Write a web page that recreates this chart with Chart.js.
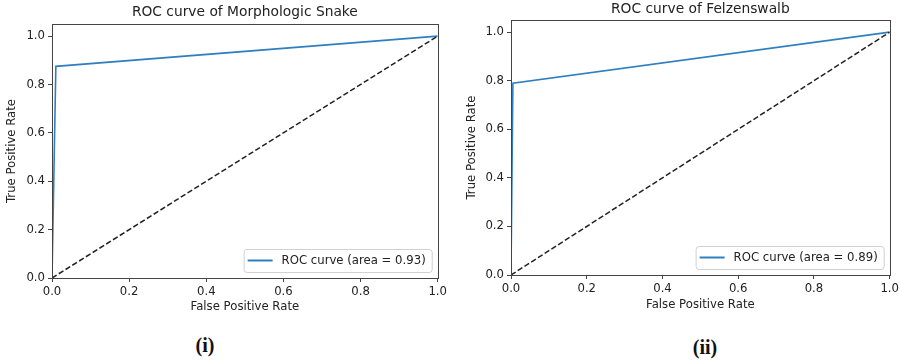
<!DOCTYPE html>
<html>
<head>
<meta charset="utf-8">
<script src="https://cdn.jsdelivr.net/npm/chart.js@4/dist/chart.umd.min.js"></script>
<style>
  body { margin: 0; background: #fff; width: 902px; height: 362px; position: relative; overflow: hidden; }
  .box { position: absolute; top: 0; height: 320px; }
  .cap { position: absolute; font-family: 'Liberation Serif', serif; font-weight: bold; font-size: 20px; color: #111; transform: translate(-50%, -50%); }
</style>
</head>
<body>
<div class="box" style="left:0;width:450px"><canvas id="snake"></canvas></div>
<div class="box" style="left:450px;width:452px"><canvas id="felz"></canvas></div>
<div class="cap" style="left:205px;top:345px">(i)</div>
<div class="cap" style="left:705px;top:347px">(ii)</div>
<script>
// chance line
const diagFpr = [0, 1];
const diagTpr = [0, 1];
// Morphologic Snake ROC
const snakeFpr = [0, 0.01, 1];
const snakeTpr = [0, 0.875, 1];
const snakeLabel = 'ROC curve (area = 0.93)';
// Felzenswalb ROC
const felzFpr = [0, 0.005, 1];
const felzTpr = [0, 0.79, 1];
const felzLabel = 'ROC curve (area = 0.89)';

const toPoints = (xs, ys) => xs.map((x, i) => ({x: x, y: ys[i]}));

Chart.defaults.font.family = 'DejaVu Sans, sans-serif';
Chart.defaults.font.size = 11.7;
Chart.defaults.color = '#222';

// frame, title and in-axes legend like matplotlib
const mplDecor = {
    id: 'mplDecor',
    afterDraw(chart, args, opts) {
        const ctx = chart.ctx;
        const a = chart.chartArea;
        ctx.save();
        ctx.strokeStyle = '#444';
        ctx.lineWidth = 1;
        ctx.strokeRect(Math.round(a.left) + 0.5, Math.round(a.top) + 0.5, Math.round(a.right - a.left), Math.round(a.bottom - a.top));

        ctx.fillStyle = '#222';
        ctx.font = '13.8px DejaVu Sans, sans-serif';
        ctx.textAlign = 'center';
        ctx.textBaseline = 'middle';
        ctx.fillText(opts.title, (a.left + a.right) / 2, opts.titleY);

        const ds = chart.data.datasets.find(d => d.label);
        ctx.font = '11.7px DejaVu Sans, sans-serif';
        const tw = ctx.measureText(ds.label).width;
        const w = 4 + 25 + 9 + tw + 6;
        const h = 23;
        const x0 = a.right - 6 - w;
        const y0 = a.bottom - 6 - h;
        ctx.fillStyle = 'rgba(255,255,255,0.85)';
        ctx.strokeStyle = '#d0d0d0';
        ctx.beginPath();
        ctx.roundRect(x0 + 0.5, y0 + 0.5, w, h, 3);
        ctx.fill();
        ctx.stroke();
        ctx.strokeStyle = ds.borderColor;
        ctx.lineWidth = 2;
        ctx.beginPath();
        ctx.moveTo(x0 + 4, y0 + h / 2);
        ctx.lineTo(x0 + 29, y0 + h / 2);
        ctx.stroke();
        ctx.fillStyle = '#222';
        ctx.textAlign = 'left';
        ctx.fillText(ds.label, x0 + 38, y0 + h / 2 + 0.5);
        ctx.restore();
    }
};

function rocChart(id, fpr, tpr, label, title, g) {
    new Chart(document.getElementById(id), {
        type: 'scatter',
        data: {
            datasets: [{
                data: toPoints(diagFpr, diagTpr),
                showLine: true,
                borderColor: '#222',
                borderWidth: 1.5,
                borderDash: [5.5, 2.5],
                pointRadius: 0
            }, {
                label: label,
                data: toPoints(fpr, tpr),
                showLine: true,
                borderColor: '#2f7fc0',
                borderWidth: 1.6,
                pointRadius: 0
            }]
        },
        options: {
            responsive: true,
            maintainAspectRatio: false,
            animation: false,
            layout: {
                autoPadding: false,
                padding: {top: g.top, right: g.right, left: 0, bottom: 0}
            },
            plugins: {
                legend: {display: false},
                tooltip: {enabled: false},
                mplDecor: {title: title, titleY: g.titleY}
            },
            scales: {
                x: {
                    type: 'linear',
                    min: 0,
                    max: 1,
                    afterFit: s => { s.height = g.xh; },
                    ticks: {stepSize: 0.2, includeBounds: false, padding: 3, color: '#222', callback: v => v.toFixed(1)},
                    grid: {drawOnChartArea: false, drawTicks: true, tickLength: 4, color: '#444'},
                    border: {display: false},
                    title: {display: true, text: 'False Positive Rate', color: '#222', padding: {top: 0, bottom: g.xtp}}
                },
                y: {
                    type: 'linear',
                    min: 0,
                    max: 1.05,
                    afterFit: s => { s.width = g.yw; },
                    ticks: {stepSize: 0.2, includeBounds: false, padding: 3, color: '#222', callback: v => v.toFixed(1)},
                    grid: {drawOnChartArea: false, drawTicks: true, tickLength: 4, color: '#444'},
                    border: {display: false},
                    title: {display: true, text: 'True Positive Rate', color: '#222', padding: {top: g.ytp, bottom: 0}}
                }
            }
        },
        plugins: [mplDecor]
    });
}

rocChart('snake', snakeFpr, snakeTpr, snakeLabel, 'ROC curve of Morphologic Snake',
    {top: 24, right: 9, yw: 52, xh: 42, xtp: 6, ytp: 5, titleY: 12});
rocChart('felz', felzFpr, felzTpr, felzLabel, 'ROC curve of Felzenswalb',
    {top: 20, right: 10, yw: 61, xh: 45, xtp: 8, ytp: 15, titleY: 9});
</script>
</body>
</html>
